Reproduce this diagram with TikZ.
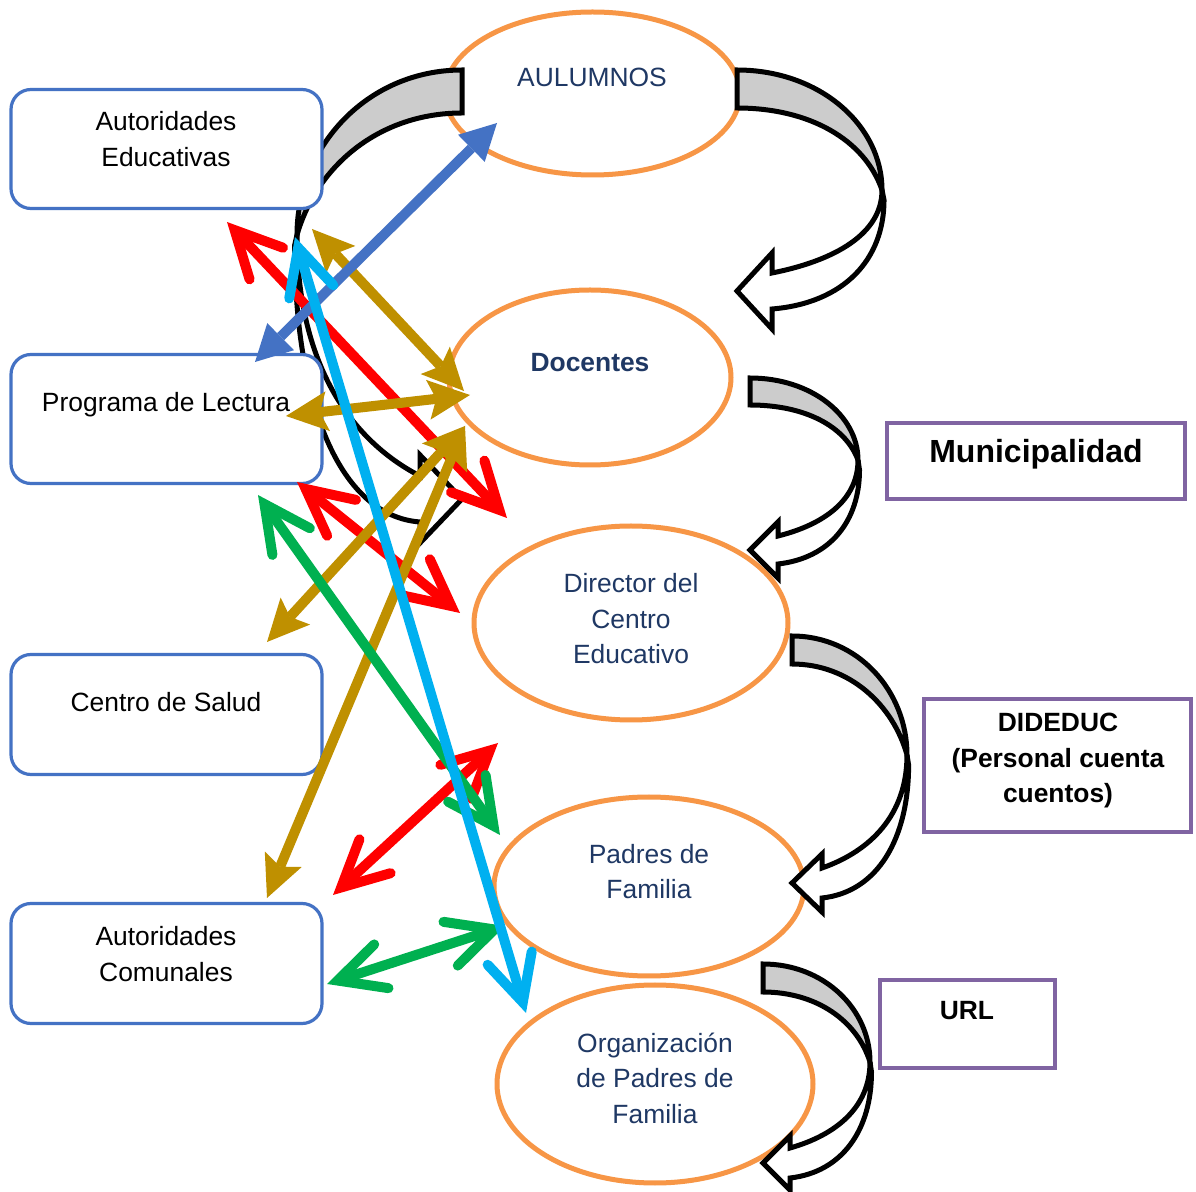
\documentclass[tikz,border=0pt]{standalone}
\usepackage{fontspec}
\setmainfont{Liberation Sans}
\usetikzlibrary{arrows.meta,shapes.geometric}
\definecolor{orng}{HTML}{F79646}
\definecolor{bxblue}{HTML}{4472C4}
\definecolor{purp}{HTML}{8064A2}
\definecolor{navy}{HTML}{1F3864}
\definecolor{cgrey}{HTML}{CCCCCC}
\definecolor{cred}{HTML}{FF0000}
\definecolor{cgold}{HTML}{BF9000}
\definecolor{ccyan}{HTML}{00B0F0}
\definecolor{cgreen}{HTML}{00B050}
\definecolor{cblue}{HTML}{4472C4}
% #1 X0, #2 Y0, #3 T, #4 XR, #5 YT, #6 YTIP, #7 HL, #8 HW, #9 SW
\newcommand{\crvArrow}[9]{%
 \filldraw[curvedshape, fill=cgrey] (#1,#2)
   .. controls ({(#1)+0.57*((#4)-(#1))},#2) and (#4,{(#2)+0.46*((#5)-(#2))}) .. (#4,#5)
   .. controls ({(#4)-0.12*((#4)-(#1))},{(#2)+0.58*((#5)-(#2))}) and ({(#1)+0.5*((#4)-(#1))},{(#2)+(#3)}) .. (#1,{(#2)+(#3)}) -- cycle;
 \filldraw[curvedshape, fill=white] (#4,#5)
   .. controls (#4,{(#5)+0.53*((#6)-(#9)-(#5))}) and ({(#1)+(#7)+0.57*((#4)-(#1)-(#7))},{(#5)+0.85*((#6)-(#9)-(#5))}) .. ({(#1)+(#7)},{(#6)-(#9)})
   -- ({(#1)+(#7)},{(#6)-(#8)}) -- (#1,#6) -- ({(#1)+(#7)},{(#6)+(#8)}) -- ({(#1)+(#7)},{(#6)+(#9)})
   .. controls ({(#1)+(#7)+0.66*((#4)-(#1)-(#7))},{(#6)+(#9)-6}) and ({(#4)+0.014*((#4)-(#1))},{(#5)+0.58*((#6)+(#9)-(#5))}) .. ({(#4)+0.014*((#4)-(#1))},{(#5)+10}) -- cycle;
}
\begin{document}
\begin{tikzpicture}[x=0.5pt,y=-0.5pt,
  oval/.style={ellipse, draw=orng, line width=2.5pt, fill=white, inner sep=0pt},
  lbox/.style={rectangle, rounded corners=10pt, draw=bxblue, line width=1.6pt, fill=white, minimum width=155.5pt, inner sep=0pt},
  pbox/.style={rectangle, draw=purp, line width=2.2pt, fill=white, inner sep=0pt},
  btext/.style={font=\fontsize{13.2}{17.75}\selectfont, align=center, text=black, inner sep=0pt},
  bbtext/.style={font=\bfseries\fontsize{13.2}{17.75}\selectfont, align=center, text=black, inner sep=0pt},
  etext/.style={font=\fontsize{13.2}{17.75}\selectfont, align=center, text=navy, inner sep=0pt},
  curvedshape/.style={draw=black, line width=2.5pt, line join=miter},
  openarr/.style={line width=5pt, arrows={Straight Barb[length=23pt,width=23pt,line cap=round,line join=miter]-Straight Barb[length=23pt,width=23pt,line cap=round,line join=miter]}},
  fillarr/.style={line width=5pt, arrows={Triangle[length=18pt,width=19pt,line width=0pt]-Triangle[length=18pt,width=19pt,line width=0pt]}},
  goldarr/.style={line width=5pt, draw=cgold, arrows={Stealth[length=21pt,width=20pt,inset=4pt,line width=0pt]-Stealth[length=21pt,width=20pt,inset=4pt,line width=0pt]}},
]
\useasboundingbox[fill=white] (0,0) rectangle (1196,1192);

% ellipses
\node[oval, minimum width=147.5pt, minimum height=81.5pt] (alu) at (592.5,93.5) {};
\node[oval, minimum width=141pt, minimum height=87.5pt] (doc) at (590,377.5) {};
\node[oval, minimum width=157pt, minimum height=97pt] (dir) at (631,623) {};
\node[oval, minimum width=155pt, minimum height=89.5pt] (pad) at (649,886.5) {};
\node[oval, minimum width=158pt, minimum height=99pt] (org) at (655,1084) {};

% curved block arrows
\crvArrow{462}{70}{43}{297}{235}{499}{-42}{44}{23}
\crvArrow{737}{70}{38}{882}{190}{291}{35}{38}{18}
\crvArrow{750}{378}{27}{858}{460}{550}{28}{28}{14}
\crvArrow{792}{636}{28}{907}{755}{883}{30}{29}{15}
\crvArrow{763}{964}{28}{870}{1062}{1163}{27}{27}{15}

% left boxes
\node[lbox, minimum height=59.5pt] (ae) at (166.5,149) {};
\node[lbox, minimum height=64.5pt] (pl) at (166.5,419) {};
\node[lbox, minimum height=60pt] (cs) at (166.5,714.5) {};
\node[lbox, minimum height=60pt] (ac) at (166.5,963.5) {};
% purple boxes
\node[pbox, minimum width=149pt, minimum height=38pt] (mun) at (1036,461) {};
\node[pbox, minimum width=133.5pt, minimum height=66.5pt] (did) at (1057.5,765.5) {};
\node[pbox, minimum width=87.5pt, minimum height=44pt] (url) at (967.5,1024) {};

% texts
\node[btext] (t-ae) at (166,139) {Autoridades\\Educativas};
\node[btext] (t-pl) at (166,405) {Programa de Lectura};
\node[btext] (t-cs) at (166,702) {Centro de Salud};
\node[btext] (t-ac) at (166,954) {Autoridades\\Comunales};
\node[bbtext, font=\bfseries\fontsize{16}{19}\selectfont] (t-mun) at (1036,454) {Municipalidad};
\node[bbtext] (t-did) at (1058,761) {DIDEDUC\\(Personal cuenta\\cuentos)};
\node[bbtext] (t-url) at (967,1011) {URL};
\node[etext] (t-alu) at (592,77) {AULUMNOS};
\node[etext, font=\bfseries\fontsize{13.2}{17.75}\selectfont] (t-doc) at (590,363) {Docentes};
\node[etext] (t-dir) at (631,619) {Director del\\Centro\\Educativo};
\node[etext] (t-pad) at (649,871.5) {Padres de\\Familia};
\node[etext] (t-org) at (655,1078) {Organización\\de Padres de\\Familia};

% connector end points
\coordinate (ra1) at (227,222); \coordinate (ra2) at (507,518);
\coordinate (rb1) at (297,482); \coordinate (rb2) at (460,613);
\coordinate (rc1) at (333,895); \coordinate (rc2) at (498,743);
\coordinate (ga1) at (312,229); \coordinate (ga2) at (464,391);
\coordinate (gb1) at (286,416); \coordinate (gb2) at (470,395);
\coordinate (gc1) at (267,642); \coordinate (gc2) at (465,426);
\coordinate (gd1) at (267,898); \coordinate (gd2) at (465,426);
\coordinate (bl1) at (255,362); \coordinate (bl2) at (497,123);
\coordinate (gn1) at (258,495); \coordinate (gn2) at (500,835);
\coordinate (gn3) at (327,984); \coordinate (gn4) at (505,926);
\coordinate (cy1) at (295,237); \coordinate (cy2) at (526,1013);

% connectors
\draw[openarr, cred] (ra1) -- (ra2);
\draw[openarr, cred] (rb1) -- (rb2);
\draw[openarr, cred] (rc1) -- (rc2);
\draw[goldarr] (ga1) -- (ga2);
\draw[goldarr] (gb1) -- (gb2);
\draw[goldarr] (gc1) -- (gc2);
\draw[goldarr] (gd1) -- (gd2);
\draw[fillarr, cblue] (bl1) -- (bl2);
\draw[openarr, cgreen] (gn1) -- (gn2);
\draw[openarr, cgreen] (gn3) -- (gn4);
\draw[openarr, ccyan] (cy1) -- (cy2);
\end{tikzpicture}
\end{document}
